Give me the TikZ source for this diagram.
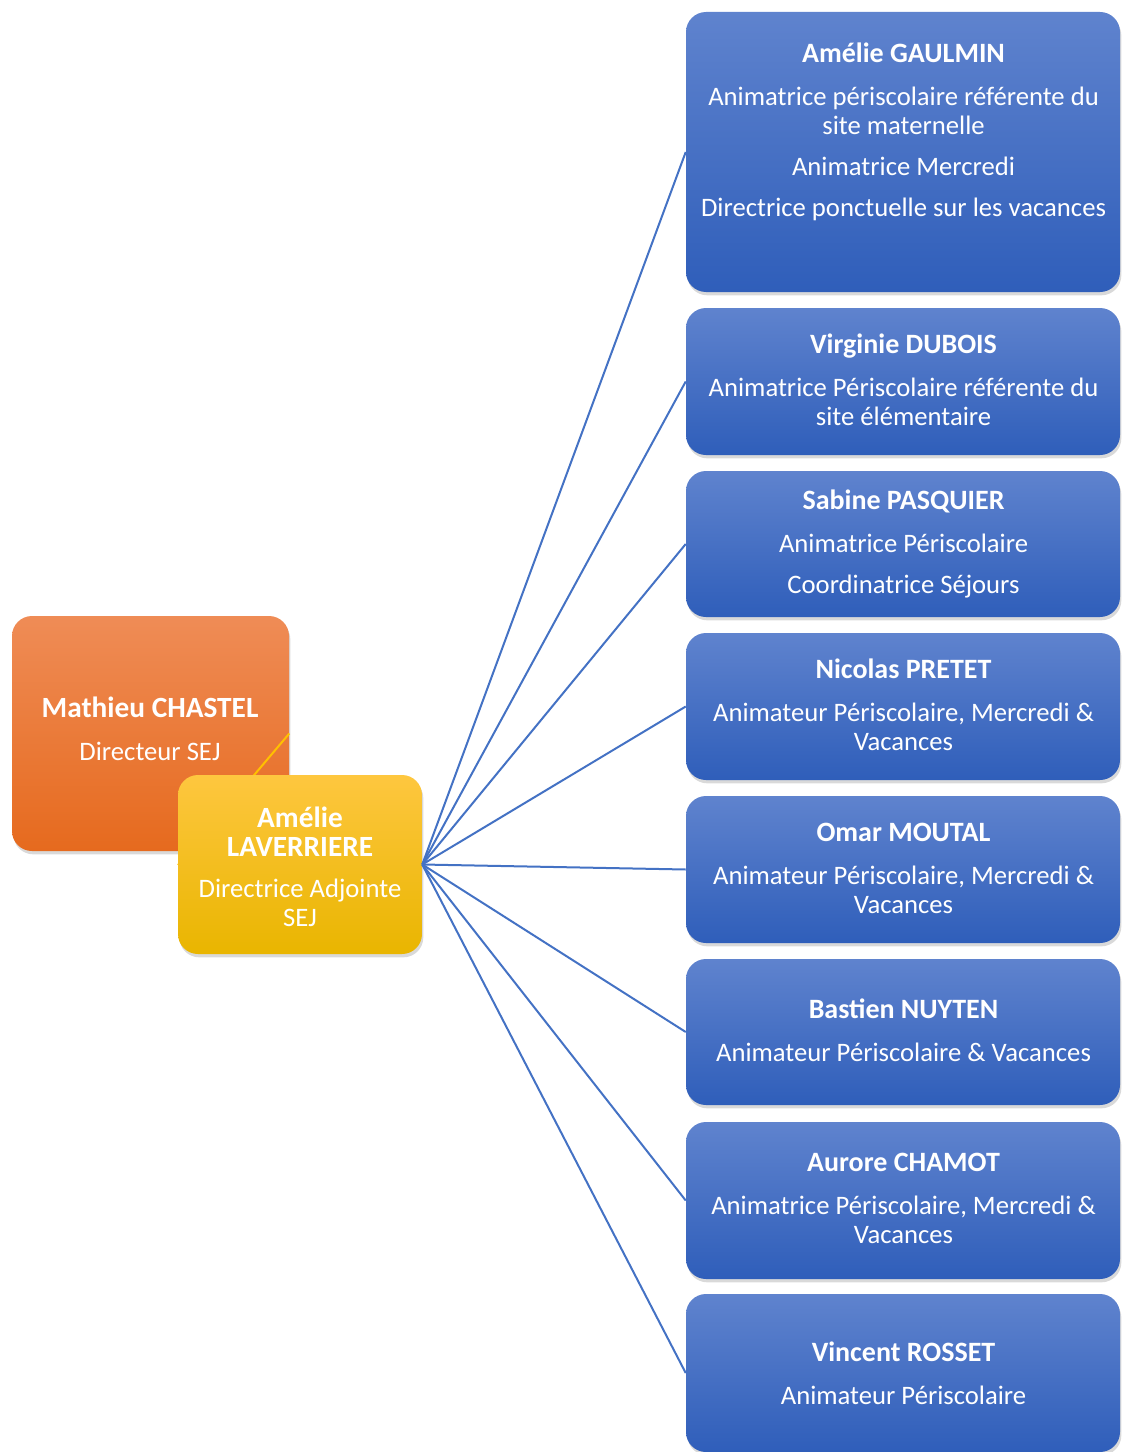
\documentclass[tikz,border=0pt]{standalone}
\usepackage{fontspec}
\setmainfont{Carlito}
\usetikzlibrary{fit,shadows}
\definecolor{bluetop}{HTML}{5F83CE}
\definecolor{bluebot}{HTML}{2F5EBA}
\definecolor{orangetop}{HTML}{EF8C56}
\definecolor{orangebot}{HTML}{E66A1E}
\definecolor{yellowtop}{HTML}{FEC73F}
\definecolor{yellowbot}{HTML}{E9B500}
\definecolor{linkblue}{HTML}{4472C4}
\definecolor{linkgold}{HTML}{FFC000}
\newcommand{\nm}[1]{{\fontsize{21}{21.75}\selectfont\bfseries #1}}
\newcommand{\bnm}[1]{{\fontsize{22}{24.5}\selectfont\bfseries #1}}
\begin{document}
\begin{tikzpicture}[x=0.75pt,y=-0.75pt,
  box/.style={rounded corners=15pt, inner sep=0pt, draw=none,
    drop shadow={opacity=0.3, shadow xshift=1pt, shadow yshift=-2.5pt}},
  bluebox/.style={box, top color=bluetop, bottom color=bluebot},
  orangebox/.style={box, top color=orangetop, bottom color=orangebot},
  yellowbox/.style={box, top color=yellowtop, bottom color=yellowbot},
  txt/.style={text=white, align=center, inner sep=0pt, anchor=base,
    font=\fontsize{20}{21.75}\selectfont},
  link/.style={draw=linkblue, line width=1.5pt},
  goldlink/.style={draw=linkgold, line width=1.5pt}]
\useasboundingbox (0,0) rectangle (1121,1452);

% left boxes
\node[orangebox, fit={(12,616) (289,851)}] (orange) {};
\draw[goldlink] (orange.east) -- (178,865);
\node[yellowbox, fit={(178,775) (422,954)}] (yellow) {};

% right boxes
\node[bluebox, fit={(686,12) (1120,292)}] (b1) {};
\node[bluebox, fit={(686,308) (1120,455)}] (b2) {};
\node[bluebox, fit={(686,471) (1120,617)}] (b3) {};
\node[bluebox, fit={(686,633) (1120,780)}] (b4) {};
\node[bluebox, fit={(686,796) (1120,943)}] (b5) {};
\node[bluebox, fit={(686,959) (1120,1105)}] (b6) {};
\node[bluebox, fit={(686,1122) (1120,1279)}] (b7) {};
\node[bluebox, fit={(686,1294) (1120,1452)}] (b8) {};

% connectors
\foreach \b in {b1,b2,b3,b4,b5,b6,b7,b8}
  \draw[link] (yellow.east) -- (\b.west);

% texts (base anchor = baseline of the last line)
\node[txt] (to) at (150,760) {\bnm{Mathieu CHASTEL}\\[10pt]Directeur SEJ};
\node[txt] (ty) at (300,926) {\bnm{Amélie}\\\bnm{LAVERRIERE}\\[9pt]Directrice Adjointe\\SEJ};

\node[txt] (t1) at (903.5,216) {\nm{Amélie GAULMIN}\\[10pt]Animatrice périscolaire référente du\\site maternelle\\[9pt]Animatrice Mercredi\\[9pt]Directrice ponctuelle sur les vacances};
\node[txt] (t2) at (903.5,425) {\nm{Virginie DUBOIS}\\[10pt]Animatrice Périscolaire référente du\\site élémentaire};
\node[txt] (t3) at (903.5,593) {\nm{Sabine PASQUIER}\\[10pt]Animatrice Périscolaire\\[9pt]Coordinatrice Séjours};
\node[txt] (t4) at (903.5,750) {\nm{Nicolas PRETET}\\[10pt]Animateur Périscolaire, Mercredi \&\\Vacances};
\node[txt] (t5) at (903.5,913) {\nm{Omar MOUTAL}\\[10pt]Animateur Périscolaire, Mercredi \&\\Vacances};
\node[txt] (t6) at (903.5,1061) {\nm{Bastien NUYTEN}\\[10pt]Animateur Périscolaire \& Vacances};
\node[txt] (t7) at (903.5,1243) {\nm{Aurore CHAMOT}\\[10pt]Animatrice Périscolaire, Mercredi \&\\Vacances};
\node[txt] (t8) at (903.5,1404) {\nm{Vincent ROSSET}\\[10pt]Animateur Périscolaire};
\end{tikzpicture}
\end{document}
